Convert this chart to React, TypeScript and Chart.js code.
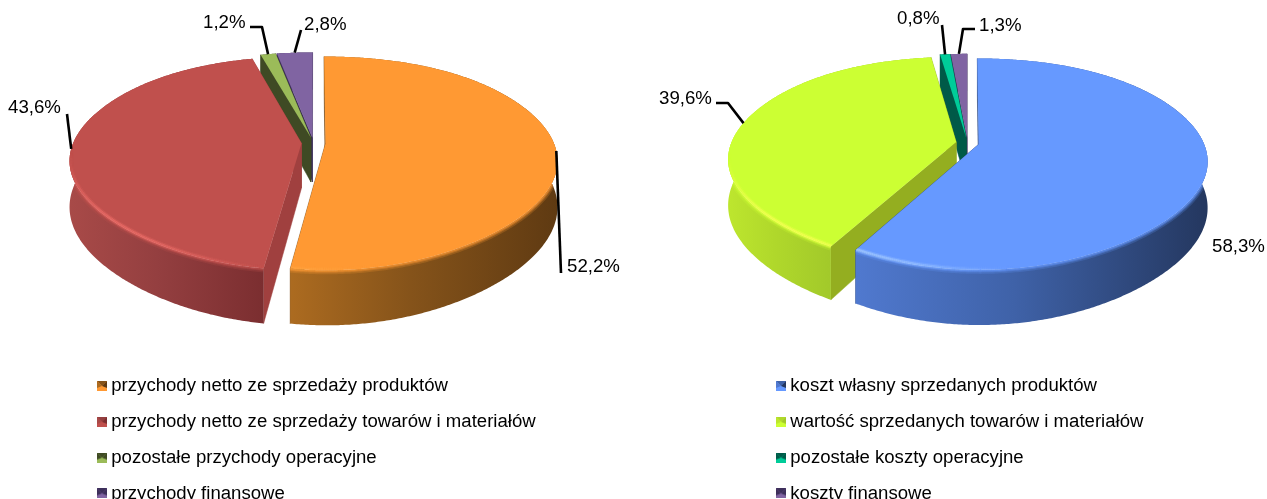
import React, { useEffect, useRef } from "react";
import { Chart, registerables } from "chart.js";

Chart.register(...registerables);

const leftCategories = [
  "przychody netto ze sprzedaży produktów",
  "przychody netto ze sprzedaży towarów i materiałów",
  "pozostałe przychody operacyjne",
  "przychody finansowe",
];
const leftValues = [52.2, 43.6, 1.2, 2.8];
const rightCategories = [
  "koszt własny sprzedanych produktów",
  "wartość sprzedanych towarów i materiałów",
  "pozostałe koszty operacyjne",
  "koszty finansowe",
];
const rightValues = [58.3, 39.6, 0.8, 1.3];

const leftTop = ["#FF9933", "#C0504D", "#9BBB59", "#8064A2"];
const rightTop = ["#6699FF", "#CCFF33", "#00CC99", "#8064A2"];

type Look = { wall: string[]; face: string; glow: string; glowAlpha: number; peak: number };
const leftLook: Look[] = [
  { wall: ["#AC6B20", "#85531A", "#5F3A12"], face: "#7A4A15", glow: "#FFB555", glowAlpha: 0.45, peak: 115 },
  { wall: ["#A84A48", "#943F40", "#7B2E30"], face: "#A0403F", glow: "#EE6F6A", glowAlpha: 0.9, peak: 135 },
  { wall: ["#3F4A24", "#3F4A24", "#3F4A24"], face: "#3F4A24", glow: "#9BBB59", glowAlpha: 0, peak: 90 },
  { wall: ["#3D2F5A", "#3D2F5A", "#3D2F5A"], face: "#3D2F5A", glow: "#8064A2", glowAlpha: 0, peak: 90 },
];
const rightLook: Look[] = [
  { wall: ["#5079CF", "#3F62A8", "#24375F"], face: "#2F4B85", glow: "#A6CCFF", glowAlpha: 0.9, peak: 122 },
  { wall: ["#BDE62E", "#B0D82B", "#A2C92A"], face: "#94AE20", glow: "#F8FF55", glowAlpha: 0.9, peak: 132 },
  { wall: ["#005A48", "#005A48", "#005A48"], face: "#005A48", glow: "#00CC99", glowAlpha: 0, peak: 90 },
  { wall: ["#3D2F5A", "#3D2F5A", "#3D2F5A"], face: "#3D2F5A", glow: "#8064A2", glowAlpha: 0, peak: 90 },
];

type Note = { x: number; y: number; path: number[][] };
const leftNotes: Note[] = [
  { x: 567, y: 267, path: [[561, 273]] },
  { x: 8, y: 108, path: [[67, 114]] },
  { x: 203, y: 23, path: [[250, 27], [262, 27]] },
  { x: 304, y: 25, path: [[301, 30]] },
];
const rightNotes: Note[] = [
  { x: 1212, y: 247, path: [] },
  { x: 659, y: 99, path: [[716, 103], [728, 103]] },
  { x: 897, y: 19, path: [[942, 25]] },
  { x: 979, y: 26, path: [[975, 29], [963, 29]] },
];

const FONT = "'Liberation Sans', Arial, sans-serif";
const LABEL_SIZE = 18.67;
const LEGEND_SIZE = 18.58;
const HEIGHT = 499;

function marker(top: string, look: Look) {
  const s = 10;
  const c = document.createElement("canvas");
  c.width = s + 3;
  c.height = s;
  const g = c.getContext("2d")!;
  g.translate(2, 0);
  const tri = (color: string, pts: number[][]) => {
    g.fillStyle = color;
    g.beginPath();
    pts.forEach((p, i) => (i ? g.lineTo(p[0], p[1]) : g.moveTo(p[0], p[1])));
    g.closePath();
    g.fill();
  };
  g.fillStyle = top;
  g.fillRect(0, 0, s, s);
  tri(look.wall[1], [[0, 0], [s, 0], [s / 2, s / 2]]);
  tri(look.wall[2], [[s, 0], [s, s - 3], [s / 2, s / 2]]);
  tri(look.wall[0], [[0, 0], [0, s - 3], [s / 2, s / 2]]);
  return c;
}

type Spec = {
  left: number;
  width: number;
  cx: number;
  A: number;
  off: number;
  B: number;
  legendX: number;
  categories: string[];
  values: number[];
  top: string[];
  look: Look[];
  notes: Note[];
};

const Y0 = 143;
const PERSP_Y = 0.187;
const PERSP_X = 0.11;
const DEPTH = 44.7;

function pie3d(spec: Spec) {
  const project = (arc: any, theta: number, r: number, mid: number, z: number): [number, number] => {
    const e = (arc.options.offset || 0) / arc.outerRadius;
    const u = Math.cos(mid) * e + Math.cos(theta) * r;
    const v = Math.sin(mid) * e + Math.sin(theta) * r;
    const clamped = Math.max(-1, Math.min(1, v));
    return [
      arc.x + arc.outerRadius * u * (1 + PERSP_X * Math.sin((clamped * Math.PI) / 2)),
      Y0 + (spec.B * v + DEPTH * z) / (1 - PERSP_Y * v),
    ];
  };

  const drawSlice = (ctx: CanvasRenderingContext2D, arc: any, look: Look, top: string) => {
    const s = arc.startAngle;
    const t = arc.endAngle;
    const mid = (s + t) / 2;
    const n = Math.max(4, Math.ceil(((t - s) * 180) / Math.PI) * 2);
    const angles: number[] = [];
    for (let i = 0; i <= n; i++) angles.push(s + ((t - s) * i) / n);
    const P = (th: number, r: number, z: number) => project(arc, th, r, mid, z);

    // radial cut faces
    ctx.fillStyle = look.face;
    ctx.strokeStyle = look.face;
    ctx.lineWidth = 0.5;
    for (const th of [s, t]) {
      poly(ctx, [P(th, 0, 0), P(th, 1, 0), P(th, 1, 1), P(th, 0, 1)]);
      ctx.fill();
      ctx.stroke();
    }

    // outer wall with a horizontal shade
    const front = angles.filter((a) => Math.sin(a) > -0.25);
    const xs = (front.length ? front : angles).map((a) => P(a, 1, 0)[0]);
    const x0 = Math.min(...xs);
    const x1 = Math.max(...xs);
    const grad = ctx.createLinearGradient(x0, 0, Math.max(x1, x0 + 1), 0);
    grad.addColorStop(0, look.wall[0]);
    grad.addColorStop(0.45, look.wall[1]);
    grad.addColorStop(1, look.wall[2]);
    ctx.fillStyle = grad;
    const wallPts = [...angles.map((a) => P(a, 1, 0)), ...angles.slice().reverse().map((a) => P(a, 1, 1))];
    poly(ctx, wallPts);
    ctx.fill();

    const topPts = [P(s, 0, 0), ...angles.map((a) => P(a, 1, 0))];

    // soft bevel just under the rim, kept inside the wall
    const rim = angles.filter((a) => Math.sin(a) > -0.3);
    ctx.lineCap = "butt";
    ctx.lineJoin = "round";
    ctx.save();
    poly(ctx, wallPts);
    ctx.clip();
    if (rim.length > 1) {
      ctx.strokeStyle = top;
      for (const [w, al] of [[8, 0.22], [5, 0.35], [3, 0.5]] as number[][]) {
        ctx.globalAlpha = al;
        ctx.lineWidth = w;
        ctx.beginPath();
        rim.forEach((a, i) => {
          const p = P(a, 1, 0);
          i ? ctx.lineTo(p[0], p[1]) : ctx.moveTo(p[0], p[1]);
        });
        ctx.stroke();
      }
      ctx.globalAlpha = 1;
    }
    ctx.restore();

    // top face
    ctx.fillStyle = arc.options.backgroundColor;
    poly(ctx, topPts);
    ctx.fill();

    // highlight along the front rim
    if (look.glowAlpha > 0) {
      ctx.save();
      ctx.beginPath();
      topPts.forEach((p, i) => (i ? ctx.lineTo(p[0], p[1]) : ctx.moveTo(p[0], p[1])));
      ctx.closePath();
      wallPts.forEach((p, i) => (i ? ctx.lineTo(p[0], p[1]) : ctx.moveTo(p[0], p[1])));
      ctx.closePath();
      ctx.clip("nonzero");
      ctx.strokeStyle = look.glow;
      const peak = (look.peak * Math.PI) / 180;
      for (let i = 0; i + 1 < rim.length; i++) {
        const k = Math.max(0, Math.cos((rim[i] - peak) * 2));
        for (const [w, scale] of [[5, 0.3], [2.5, 0.75]] as number[][]) {
          ctx.globalAlpha = look.glowAlpha * k * k * scale;
          ctx.lineWidth = w;
          const p = P(rim[i], 0.995, 0);
          const q = P(rim[i + 1], 0.995, 0);
          ctx.beginPath();
          ctx.moveTo(p[0], p[1]);
          ctx.lineTo(q[0], q[1]);
          ctx.stroke();
        }
      }
      ctx.restore();
      ctx.globalAlpha = 1;
    }
  };

  return {
    id: "pie3d",
    afterLayout(chart: any) {
      const l = chart.legend;
      const pad = l.options.labels.padding;
      l.left = spec.legendX - spec.left - 0.5 - pad;
      l.right = spec.width;
      l.top = 386 - LEGEND_SIZE / 2 - pad;
      l.bottom = HEIGHT + 200;
    },
    beforeDatasetsDraw(chart: any) {
      const ctx: CanvasRenderingContext2D = chart.ctx;
      const arcs: any[] = chart.getDatasetMeta(0).data;
      for (let i = arcs.length - 1; i >= 0; i--) drawSlice(ctx, arcs[i], spec.look[i], spec.top[i]);
      return false;
    },
    afterDraw(chart: any) {
      const ctx: CanvasRenderingContext2D = chart.ctx;
      const arcs: any[] = chart.getDatasetMeta(0).data;
      ctx.save();
      ctx.font = `${LABEL_SIZE}px ${FONT}`;
      ctx.textBaseline = "middle";
      ctx.textAlign = "left";
      ctx.fillStyle = "#000";
      ctx.strokeStyle = "#000";
      ctx.lineWidth = 2.6;
      spec.notes.forEach((n, i) => {
        const text = spec.values[i].toFixed(1).replace(".", ",") + "%";
        ctx.fillText(text, n.x - spec.left, n.y);
        if (n.path.length) {
          const a = arcs[i];
          const mid = (a.startAngle + a.endAngle) / 2;
          const [ax, ay] = project(a, mid, 1, mid, 0);
          ctx.beginPath();
          n.path.forEach((p, k) => (k ? ctx.lineTo(p[0] - spec.left, p[1]) : ctx.moveTo(p[0] - spec.left, p[1])));
          ctx.lineTo(ax, ay);
          ctx.stroke();
        }
      });
      ctx.restore();
    },
  };
}

function poly(ctx: CanvasRenderingContext2D, pts: number[][]) {
  ctx.beginPath();
  pts.forEach((p, i) => (i ? ctx.lineTo(p[0], p[1]) : ctx.moveTo(p[0], p[1])));
  ctx.closePath();
}

function makeChart(canvas: HTMLCanvasElement, spec: Spec) {
  const size = 2 * spec.A + spec.off;
  const padLeft = spec.cx - spec.left - size / 2;
  const padTop = (HEIGHT - size) / 2;
  return new Chart(canvas, {
    type: "pie",
    data: {
      labels: spec.categories,
      datasets: [
        {
          data: spec.values,
          backgroundColor: spec.top,
          borderWidth: 0,
          offset: spec.off,
        },
      ],
    },
    options: {
      responsive: false,
      animation: false,
      devicePixelRatio: 1,
      layout: {
        padding: {
          left: padLeft,
          right: spec.width - padLeft - size,
          top: padTop,
          bottom: padTop,
        },
      },
      plugins: {
        tooltip: { enabled: false },
        legend: {
          display: true,
          position: "chartArea",
          align: "start",
          labels: {
            font: { family: FONT, size: LEGEND_SIZE },
            color: "#000",
            padding: 35.8 - LEGEND_SIZE,
            usePointStyle: true,
            pointStyleWidth: 1,
            generateLabels: () =>
              spec.categories.map((text, i) => ({
                text,
                index: i,
                fillStyle: spec.top[i],
                strokeStyle: spec.top[i],
                lineWidth: 0,
                hidden: false,
                pointStyle: marker(spec.top[i], spec.look[i]),
              })),
          },
        },
      },
    } as any,
    plugins: [pie3d(spec)],
  } as any);
}

const leftSpec: Spec = {
  left: 0,
  width: 633,
  cx: 313.5,
  A: 228.3,
  off: 12,
  B: 103,
  legendX: 101.5,
  categories: leftCategories,
  values: leftValues,
  top: leftTop,
  look: leftLook,
  notes: leftNotes,
};
const rightSpec: Spec = {
  left: 633,
  width: 634,
  cx: 967.5,
  A: 225,
  off: 11.5,
  B: 101.5,
  legendX: 780.5,
  categories: rightCategories,
  values: rightValues,
  top: rightTop,
  look: rightLook,
  notes: rightNotes,
};

export default function App() {
  const a = useRef<HTMLCanvasElement>(null);
  const b = useRef<HTMLCanvasElement>(null);
  useEffect(() => {
    const c1 = makeChart(a.current!, leftSpec);
    const c2 = makeChart(b.current!, rightSpec);
    return () => {
      c1.destroy();
      c2.destroy();
    };
  }, []);
  return (
    <div style={{ position: "fixed", left: 0, top: 0, width: 1267, height: HEIGHT, overflow: "hidden", background: "#fff" }}>
      <canvas ref={a} width={633} height={HEIGHT} style={{ position: "absolute", left: 0, top: 0, width: 633, height: HEIGHT }} />
      <canvas ref={b} width={634} height={HEIGHT} style={{ position: "absolute", left: 633, top: 0, width: 634, height: HEIGHT }} />
    </div>
  );
}
